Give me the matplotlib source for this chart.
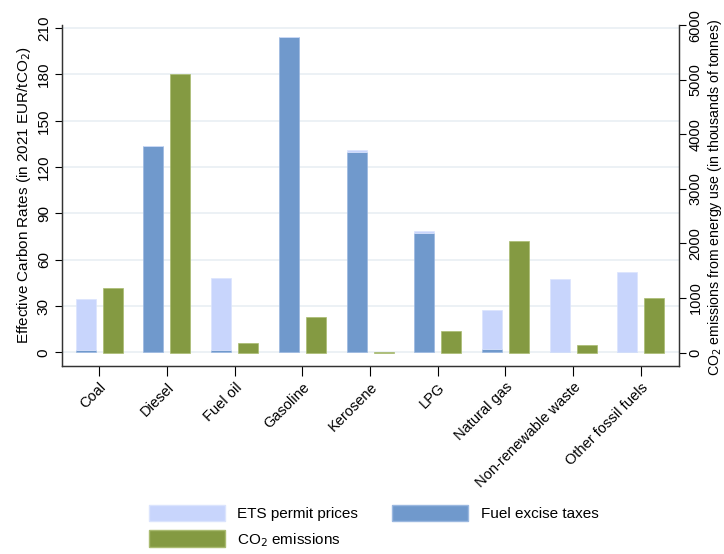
import numpy as np
import matplotlib
matplotlib.use('Agg')
import matplotlib.pyplot as plt
from matplotlib.patches import Patch

plt.rcParams['font.family'] = ['Liberation Sans', 'DejaVu Sans']

fuels = ['Coal', 'Diesel', 'Fuel oil', 'Gasoline', 'Kerosene', 'LPG',
         'Natural gas', 'Non-renewable waste', 'Other fossil fuels']
excise = [1.5, 133.7, 1.5, 204.1, 130.0, 77.1, 2.0, 0.0, 0.0]
ets = [33.2, 0.0, 46.8, 0.0, 1.0, 1.7, 25.4, 47.7, 52.2]
co2 = [1174, 5114, 176, 642, 12, 396, 2048, 139, 991]

c_ets = '#c8d5fc'
c_exc = '#7099cc'
c_co2 = '#849a42'

fig = plt.figure(figsize=(7.24, 5.54), dpi=100)
ax = fig.add_axes([0.0856, 0.339, 0.852, 0.616])
ax2 = ax.twinx()

x = np.arange(len(fuels))
w = 0.295
ax.bar(x - 0.2, excise, w, color=c_exc, edgecolor='#9bb8e0', linewidth=0.5, zorder=2)
ax.bar(x - 0.2, ets, w, bottom=excise, color=c_ets, edgecolor='#dbe4fd', linewidth=0.5, zorder=2)
ax2.bar(x + 0.2, co2, w, color=c_co2, edgecolor='#a9bb70', linewidth=0.5, zorder=2)

ax.set_xlim(-0.55, 8.56)
ax.set_ylim(-8.9, 212.1)
ax2.set_ylim(-251, 6005)

ax.set_yticks(range(0, 211, 30))
ax2.set_yticks(range(0, 6001, 1000))
ax.yaxis.grid(True, color='#e9eff3', linewidth=1.2, zorder=0)
ax.set_axisbelow(True)

ax.set_xticks(x)
ax.set_xticklabels(fuels, rotation=45, ha='right', rotation_mode='anchor', fontsize=10.5)
for lab in ax.get_yticklabels() + ax2.get_yticklabels():
    lab.set_rotation(90)
    lab.set_va('center')
ax.tick_params(axis='y', labelsize=11, length=5, width=0.8, pad=3)
ax2.tick_params(axis='y', labelsize=10.5, length=5, width=0.8, pad=2)
ax.tick_params(axis='x', length=7, width=0.8, pad=3)

for a in (ax, ax2):
    a.spines['top'].set_visible(False)
    for s in ('left', 'right', 'bottom'):
        a.spines[s].set_color('#333333')
        a.spines[s].set_linewidth(0.9)

ax.set_ylabel('Effective Carbon Rates (in 2021 EUR/tCO$_2$)', fontsize=11, labelpad=3)
fig.text(715 / 724, 1 - 376 / 554, 'CO$_2$ emissions from energy use (in thousands of tonnes)',
         rotation=90, ha='center', va='bottom', fontsize=10.2)

handles = [Patch(facecolor=c_ets, edgecolor='#dbe4fd'),
           Patch(facecolor=c_co2, edgecolor='#a9bb70'),
           Patch(facecolor=c_exc, edgecolor='#9bb8e0')]
labels = ['ETS permit prices', 'CO$_2$ emissions', 'Fuel excise taxes']
fig.legend(handles, labels, ncol=2, loc='upper left', bbox_to_anchor=(0.195, 0.103),
           frameon=False, fontsize=11, handlelength=5.0, handleheight=1.3,
           handletextpad=0.8, columnspacing=2.2, labelspacing=0.6, borderpad=0)

fig.savefig('out.png', dpi=100)
